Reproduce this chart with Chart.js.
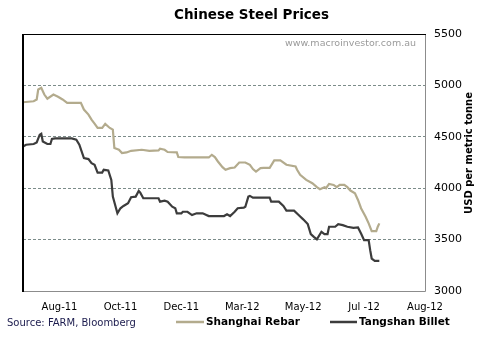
<!DOCTYPE html>
<html>
<head>
<meta charset="utf-8">
<script src="https://cdn.jsdelivr.net/npm/chart.js@4/dist/chart.umd.min.js"></script>
<style>
  html, body { margin: 0; padding: 0; background: #fff; }
  #wrap { position: relative; width: 480px; height: 338px; }
</style>
</head>
<body>
<div id="wrap"><canvas id="c" width="480" height="338"></canvas></div>
<script>
// ---- Data (x = trading-day index from the start of the series) ----
const xTickDays = [24, 64, 104, 144, 184, 224, 264];
const xTickLabels = ['Aug-11', 'Oct-11', 'Dec-11', 'Mar-12', 'May-12', 'Jul -12', 'Aug-12'];
const yTicks = [3000, 3500, 4000, 4500, 5000, 5500];

const rebarDays = [0,7,9,10,12,14,16,20,23,26,29,38,40,43,45,47,49,52,54,57,59,60,63,65,68,71,78,83,89,90,93,95,101,102,106,122,124,126,128,131,133,136,139,142,146,149,151,153,156,158,162,165,169,173,179,180,182,186,190,193,195,198,199,201,204,206,208,211,213,215,218,220,222,225,227,229,232,233,234];
const rebarValues = [4836,4846,4863,4960,4977,4911,4870,4911,4889,4863,4830,4830,4765,4716,4667,4628,4586,4586,4625,4586,4570,4391,4374,4342,4348,4364,4374,4364,4367,4384,4374,4352,4348,4303,4299,4299,4325,4303,4260,4205,4179,4195,4201,4250,4250,4228,4186,4162,4195,4198,4198,4270,4270,4228,4211,4179,4130,4081,4049,4010,3990,4010,4000,4042,4032,4010,4032,4032,4010,3977,3951,3886,3805,3723,3658,3583,3583,3625,3658];

const billetDays = [0,2,7,9,11,12,13,16,18,19,21,32,35,37,40,43,45,47,49,52,53,56,58,59,62,64,66,69,71,74,76,77,79,89,90,93,95,98,100,101,104,105,108,111,114,118,122,132,134,136,139,141,145,146,148,149,151,162,163,168,171,173,178,181,184,187,189,191,193,196,198,200,201,205,207,210,213,217,220,222,224,227,228,229,231,234];
const billetValues = [4406,4423,4430,4446,4521,4530,4455,4430,4430,4479,4485,4485,4472,4423,4293,4283,4244,4228,4152,4152,4179,4172,4081,3918,3756,3805,3827,3853,3912,3918,3974,3957,3902,3902,3869,3879,3869,3820,3805,3756,3756,3771,3771,3739,3756,3756,3729,3729,3746,3729,3771,3805,3811,3820,3918,3925,3908,3908,3869,3869,3827,3781,3781,3739,3697,3651,3554,3527,3502,3576,3554,3554,3625,3625,3651,3641,3625,3615,3618,3560,3495,3495,3397,3316,3293,3293];

const seriesNames = ['Shanghai Rebar', 'Tangshan Billet'];
const seriesColors = ['#b3ab8d', '#3c3c3c'];

const toPoints = (xs, ys) => xs.map((x, i) => ({ x: x, y: ys[i] }));

const FONT = '"DejaVu Sans", Tahoma, Verdana, sans-serif';

const decor = {
  id: 'decor',
  beforeDatasetsDraw(chart) {
    const { ctx, chartArea: a } = chart;
    ctx.save();
    ctx.fillStyle = '#9a9a9a';
    ctx.font = '9.5px ' + FONT;
    ctx.textAlign = 'right';
    ctx.textBaseline = 'middle';
    ctx.fillText('www.macroinvestor.com.au', a.right - 9, a.top + 10);
    ctx.restore();
  },
  afterDraw(chart) {
    const { ctx, chartArea: a } = chart;
    ctx.save();
    ctx.lineWidth = 1;
    ctx.strokeStyle = '#8c8c8c';
    ctx.beginPath();
    ctx.moveTo(a.right + 0.5, a.top);
    ctx.lineTo(a.right + 0.5, a.bottom + 0.5);
    ctx.lineTo(a.left, a.bottom + 0.5);
    ctx.stroke();
    ctx.strokeStyle = '#000';
    ctx.beginPath();
    ctx.moveTo(a.left, a.top + 0.5);
    ctx.lineTo(a.right + 1, a.top + 0.5);
    ctx.stroke();
    ctx.lineWidth = 2;
    ctx.beginPath();
    ctx.moveTo(a.left, a.top);
    ctx.lineTo(a.left, a.bottom + 1);
    ctx.stroke();

    ctx.fillStyle = '#000';
    ctx.font = 'bold 10px ' + FONT;
    ctx.textAlign = 'center';
    ctx.textBaseline = 'middle';
    ctx.translate(469, 153);
    ctx.rotate(-Math.PI / 2);
    ctx.fillText('USD per metric tonne', 0, 0);
    ctx.setTransform(1, 0, 0, 1, 0, 0);

    ctx.fillStyle = '#1c1c4e';
    ctx.font = '10px ' + FONT;
    ctx.textAlign = 'left';
    ctx.textBaseline = 'middle';
    ctx.fillText('Source: FARM, Bloomberg', 7, 323);

    const items = [{ x0: 176, x1: 204 }, { x0: 330, x1: 357 }];
    chart.data.datasets.forEach((ds, i) => {
      const it = items[i];
      ctx.strokeStyle = ds.borderColor;
      ctx.lineWidth = 2.5;
      ctx.beginPath();
      ctx.moveTo(it.x0, 322);
      ctx.lineTo(it.x1, 322);
      ctx.stroke();
      ctx.fillStyle = '#000';
      ctx.font = 'bold 10.5px ' + FONT;
      ctx.fillText(ds.label, it.x1 + 2, 322);
    });
    ctx.restore();
  }
};

new Chart(document.getElementById('c'), {
  type: 'line',
  data: {
    datasets: [
      { label: seriesNames[0], data: toPoints(rebarDays, rebarValues), borderColor: seriesColors[0], borderWidth: 2.2, pointRadius: 0, tension: 0, fill: false },
      { label: seriesNames[1], data: toPoints(billetDays, billetValues), borderColor: seriesColors[1], borderWidth: 2.2, pointRadius: 0, tension: 0, fill: false }
    ]
  },
  options: {
    responsive: false,
    animation: false,
    devicePixelRatio: 1,
    layout: { padding: { left: 23, right: 0, top: 0, bottom: 0 } },
    plugins: {
      legend: { display: false },
      tooltip: { enabled: false },
      title: {
        display: true,
        text: 'Chinese Steel Prices',
        color: '#000',
        font: { family: FONT, size: 13.5, weight: 'bold', lineHeight: 1.2 },
        padding: { top: 7, bottom: 10.8 }
      }
    },
    scales: {
      x: {
        type: 'linear',
        min: 0,
        max: 264,
        border: { display: false },
        grid: { display: false, drawTicks: false },
        afterBuildTicks(scale) { scale.ticks = xTickDays.map(v => ({ value: v })); },
        afterFit(scale) { scale.height = 47; },
        ticks: {
          color: '#000',
          padding: 10,
          maxRotation: 0,
          autoSkip: false,
          font: { family: FONT, size: 10 },
          callback: (v) => { const i = xTickDays.indexOf(v); return i >= 0 ? xTickLabels[i] : ''; }
        }
      },
      y: {
        position: 'right',
        min: 3000,
        max: 5500,
        border: { display: false, dash: [3, 2] },
        afterBuildTicks(scale) { scale.ticks = yTicks.map(v => ({ value: v })); },
        afterFit(scale) { scale.width = 55; },
        grid: {
          drawTicks: false,
          color: (c) => (c.tick && (c.tick.value === 3000 || c.tick.value === 5500)) ? 'rgba(0,0,0,0)' : '#7c8c8a',
          lineWidth: 1
        },
        ticks: {
          color: '#000',
          padding: 9,
          font: { family: FONT, size: 11 },
          callback: (v) => String(v)
        }
      }
    }
  },
  plugins: [decor]
});
</script>
</body>
</html>
